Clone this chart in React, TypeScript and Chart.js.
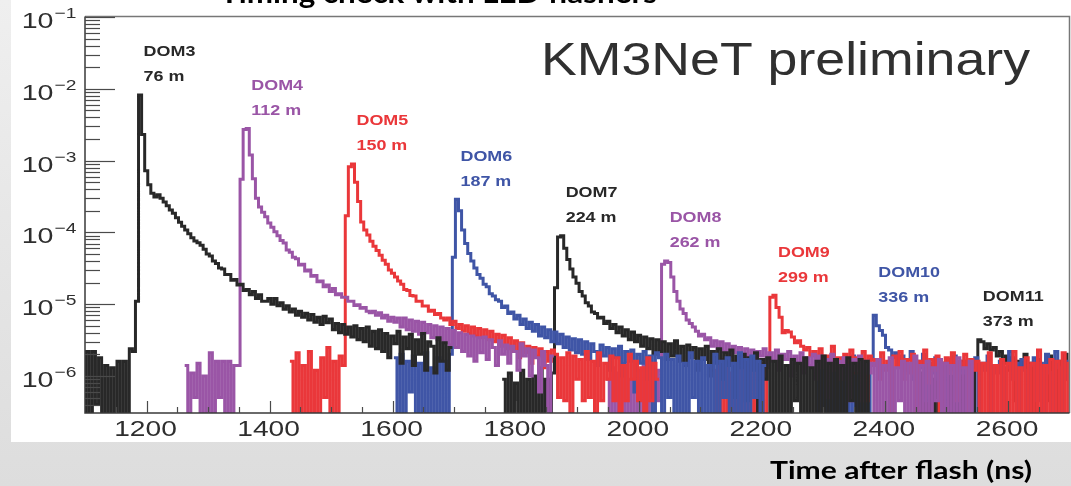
import React, { useEffect, useRef } from "react";
import { Chart, registerables } from "chart.js";

Chart.register(...registerables);

// ---------------- data ----------------
const BIN_NS = 5; // histogram bin width in ns
const UNIT = 1e-6; // series values below are given in units of 1e-6
const X_MIN = 1100;
const X_MAX = 2700;
const Y_MIN = 3.05e-7;
const Y_MAX = 0.1;

const chartTitle = "Timing check with LED flashers";
const xAxisTitle = "Time after flash (ns)";
const watermark = "KM3NeT preliminary";

const domNames = ["DOM3", "DOM4", "DOM5", "DOM6", "DOM7", "DOM8", "DOM9", "DOM10", "DOM11"];
const domDistances = ["76 m", "112 m", "150 m", "187 m", "224 m", "262 m", "299 m", "336 m", "373 m"];
// time (ns) of the first bin of each histogram
const domStarts = [1092, 1262, 1433, 1602, 1778, 1947, 2118, 2286, 2456];

const dom3 = [
  0.9, 0, 2.2, 0, 2.2, 0.4, 1.8, 0, 1.4, 0,
  1.3, 0, 1.6, 0, 1.6, 0, 2.4, 2.2, 11, 8200,
  2300, 720, 460, 350, 310, 335, 300, 265, 235, 205,
  185, 160, 138, 122, 108, 96, 84, 76, 72, 66,
  58, 50, 47, 40, 37, 32, 31, 26, 26, 21.5,
  22, 18.5, 19, 15.5, 16, 13.5, 15, 12, 13.5, 11,
  11, 12, 10, 12, 9.5, 10.5, 8.5, 9.5, 7.8, 8.6,
  7, 8, 6.6, 7.5, 6, 7.2, 5.6, 6.6, 5.2, 6.8,
  5.5, 6.2, 4.4, 5.4, 4, 5.2, 3.8, 4.8, 3.5, 5,
  3.2, 4.6, 3, 4.8, 2.6, 4.2, 2.4, 4.4, 2.2, 3.9,
  1.8, 3.6, 2.8, 4.2, 1.5, 3.5, 2.4, 3.8, 1.4, 3.2,
  2, 3.9, 1.2, 3, 2.6, 1.1, 3.4, 1.6, 2.9, 1.2,
  2.5,
];

const dom4 = [
  1.4, 0, 1.1, 0.5, 1.5, 0, 1.0, 0, 2.1, 0,
  1.6, 0.5, 1.6, 0, 1.6, 0, 1.4, 1.4, 550, 2700,
  2800, 1200, 560, 300, 225, 190, 165, 135, 118, 102,
  90, 77, 71, 57, 53, 45, 43, 35, 36, 29,
  30, 24.5, 25, 20.5, 21, 17.5, 18.5, 15, 16.5, 13.5,
  14, 12.5, 12.5, 11, 11, 9.6, 9.8, 8.8, 9, 8,
  7.6, 8, 7, 7.6, 6.4, 7, 5.8, 6.6, 5.6, 6.4,
  4.8, 6.4, 4.4, 6, 4.2, 5.8, 3.8, 5.6, 4, 5.2,
  3.4, 5, 3.2, 4.8, 2.9, 4.6, 2.7, 4.3, 2.5, 4,
  2.2, 3.8, 1.9, 3.6, 1.6, 3.4, 2.1, 3.5, 1.7, 3.2,
  2.5, 1.4, 3.1, 2, 2.7, 1.5, 2.6, 2.2, 1.2, 2.8,
  1.9, 2.4, 1, 2.3, 1.8, 0.6, 2.2, 1.4, 0, 1.9,
];

const dom5 = [
  1.6, 0, 2.1, 0, 1.4, 0, 2.2, 0, 1.2, 0,
  1.8, 0.5, 2.5, 0, 1.6, 0, 1.9, 1.4, 170, 820,
  900, 500, 270, 140, 108, 92, 75, 64, 56, 48,
  41, 36, 30, 27, 24, 21, 19, 16, 15.5, 13.2,
  13, 11, 11, 9.4, 9.4, 8, 8.2, 7.2, 7.4, 6.4,
  6, 6.4, 5.2, 5.8, 4.6, 5.2, 4.2, 5, 3.9, 4.8,
  3.6, 4.6, 3.4, 4.4, 3.2, 4.2, 3, 3.8, 2.6, 3.7,
  2.4, 3.4, 2.2, 3.1, 1.8, 2.9, 2.1, 2.6, 1.5, 2.5,
  1.9, 2.4, 1.3, 2.2, 1.6, 2.3, 2.0, 0.5, 1.8, 0.45,
  2.1, 0, 1.9, 0.9, 1.7, 0.45, 2.2, 0.5, 1.6, 0,
  2.1, 0.45, 1.5, 0.9, 1.9, 0.45, 1.8, 0, 1.4, 0.45,
  2, 0.9, 1.6, 0.45, 1.3, 0, 1.8, 0.45, 1.5, 0.9,
];

const dom6 = [
  1.8, 0, 2, 0, 1.6, 0.6, 1.9, 0, 1.5, 0,
  2.1, 0, 1.3, 0, 1.8, 0, 1.6, 0, 2, 45,
  290, 200, 108, 70, 51, 40, 32, 26, 23, 19,
  17.5, 14, 13, 11.5, 11, 9, 9.4, 7.4, 7.8, 6.2,
  7, 5.2, 6.2, 4.6, 5.6, 4.2, 5.2, 3.6, 4.8, 3.4,
  4.4, 3, 4.1, 2.8, 3.8, 2.5, 3.5, 2.3, 3.3, 2.1,
  3.2, 2, 3, 1.7, 2.8, 2.2, 1.4, 2.7, 1.9, 2.5,
  1.2, 2.4, 1.8, 2.6, 1, 2.2, 1.6, 2.3, 0.6, 2,
  1.5, 2.2, 0.9, 1.9, 0, 2.1, 1.8, 0, 2, 0.5,
  1.7, 0, 1.9, 0, 1.5, 0, 2.1, 0.5, 1.6, 0,
  1.8, 0, 1.4, 0, 2, 0, 1.6, 0.5, 1.8, 0,
  1.5, 0, 2.1, 0, 1.7, 0, 1.9, 0.5, 1.6, 0,
  1.4,
];

const dom7 = [
  0.9, 0, 1.1, 0, 0.8, 0, 1.2, 0, 0.9, 0,
  1.0, 0, 1.3, 0, 0.9, 0, 1.1, 17, 86, 90,
  60, 42, 31, 24, 19.5, 15, 13, 10.5, 9.4, 7.8,
  7.4, 6.4, 6.6, 5.4, 5.8, 4.6, 5.2, 4, 4.8, 3.6,
  4.4, 3.2, 4.1, 3, 3.7, 2.6, 3.5, 2.4, 3.3, 2,
  3.2, 2.2, 3, 1.7, 2.8, 1.9, 3.1, 1.6, 2.6, 1.4,
  2.7, 1.8, 2.5, 1.2, 2.4, 1.7, 2.6, 1, 2.2, 1.5,
  2.4, 0.9, 2.1, 1.4, 2.3, 0.5, 1.9, 1.3, 2, 0.45,
  1.8, 1.2, 2.1, 0, 1.7, 0.9, 1.8, 0, 1.6, 0,
  1.9, 0, 1.4, 0, 1.7, 0.45, 1.5, 0, 1.8, 0,
  1.3, 0, 1.6, 0, 1.9, 0, 1.5, 0, 1.7, 0,
  1.4, 0, 1.8, 0.45, 1.5, 0, 1.7, 0, 1.6, 0,
];

const dom8 = [
  0.9, 0, 1.3, 0, 1.1, 0, 1.5, 0, 0.9, 0,
  1.2, 0, 1.6, 0, 1.4, 0, 1.2, 0.45, 36, 40,
  38, 24, 15, 11, 8.6, 7.4, 6, 5.4, 4.8, 4.2,
  3.6, 3.8, 3.2, 3.4, 2.6, 3.1, 2.4, 3, 2.2, 2.8,
  1.9, 2.6, 2.1, 2.5, 1.7, 2.4, 1.8, 2.3, 1.4, 2.2,
  1.9, 2.4, 1.3, 2.1, 1.6, 2.3, 1.2, 2, 1.7, 2.2,
  1, 1.9, 1.5, 2.1, 1.1, 1.8, 1.4, 2, 0.9, 1.9,
  1.3, 1.7, 0.5, 2, 1.2, 1.6, 0.9, 1.8, 1.4, 0.45,
  1.7, 1.2, 1.9, 0.45, 1.6, 1.1, 1.5, 0, 1.7, 0,
  1.4, 0, 1.8, 0, 1.3, 0.45, 1.6, 0, 1.5, 0,
  1.9, 0, 1.4, 0, 1.6, 0, 1.3, 0.45, 1.7, 0,
  1.5, 0, 1.4, 0, 1.8, 0, 1.3, 0, 1.6, 0,
];

const dom9 = [
  1.2, 0, 1.5, 0, 1.7, 0, 1.1, 0, 1.6, 0,
  1.9, 0, 1.4, 0, 1.8, 0, 1.5, 0, 1.9, 12.5,
  13.3, 9, 6.6, 4, 4.3, 4.1, 3.5, 2.9, 3.1, 2.6,
  2.3, 2.5, 1.9, 2.2, 1.6, 2.4, 1.5, 1.9, 1.2, 2.6,
  1.4, 1.8, 0.9, 2, 1.5, 2.3, 1.1, 1.8, 1.3, 2.2,
  0.45, 1.9, 1.4, 1.7, 0.9, 2.1, 1.2, 1.6, 0, 1.9,
  1.3, 2.2, 0.9, 1.7, 1.1, 2, 0, 1.6, 1.4, 2.3,
  0.8, 1.7, 1.2, 1.9, 0, 1.5, 1.8, 1.1, 2.1, 0.45,
  1.6, 1.3, 2, 0, 1.7, 1.2, 1.6, 0, 1.5, 0,
  2.1, 0, 1.4, 0, 1.7, 0, 1.5, 0, 2.2, 0,
  1.3, 0, 1.8, 0, 1.5, 0, 2.3, 0, 1.4, 0,
  1.7, 0, 1.6, 0, 2.1, 0, 1.5,
];

const dom10 = [
  1.3, 0, 1.8, 0, 1.2, 0, 1.6, 0, 0.9, 0,
  1.5, 0, 1.9, 0, 1.1, 0, 1.6, 0, 1.7, 7,
  5, 4.3, 3.7, 2.5, 2.3, 1.8, 2.1, 1.4, 1.9, 1.2,
  1.7, 2.2, 0.9, 1.6, 1.3, 2, 0.45, 1.5, 1.1, 1.8,
  0.9, 1.4, 0, 1.7, 1.2, 1.9, 0.45, 1.5, 1.1, 1.6,
  0.9, 1.3, 1.8, 0, 1.5, 1.2, 1.9, 0, 1.4, 1.1,
  1.6, 0, 1.3, 2.2, 0.9, 1.5, 0, 1.7, 1.2, 0,
  1.4, 1.8, 0.45, 1.5, 0, 2, 1.1, 0, 2.2, 1.3,
  0, 1.6, 0.9,
];

const dom11 = [
  1.1, 0, 1.4, 0, 0.9, 0, 1.2, 0, 1.5, 0,
  1.0, 0, 1.3, 0, 1.6, 0, 1.2, 0, 1.4, 3.2,
  3.0, 2.4, 2.8, 2.3, 2.5, 1.9, 2.2, 1.5, 1.9, 1.2,
  1.8, 0.45, 1.6, 1.3, 2, 0.9, 1.5, 0, 1.7, 1.1,
  1.4, 0.45, 1.9, 1.2, 0, 1.6, 1.3, 2, 0.9,
];

const xTickLabels = [1200, 1400, 1600, 1800, 2000, 2200, 2400, 2600];
const yTickExponents = [-1, -2, -3, -4, -5, -6];

// ---------------- style ----------------
const W = 1071;
const H = 486;
const domColors = ["#282828", "#9a55a6", "#ea373a", "#3f55a6", "#282828", "#9a55a6", "#ea373a", "#3f55a6", "#282828"];
const SX = 1.28; // horizontal stretch of the original figure's lettering
const SANS = '"Liberation Sans", Arial, sans-serif';

function drawText(
  ctx: CanvasRenderingContext2D,
  text: string,
  x: number,
  y: number,
  font: string,
  color: string,
  opt: { sx?: number; width?: number; align?: "left" | "center" | "right" } = {}
) {
  ctx.save();
  ctx.font = font;
  ctx.fillStyle = color;
  ctx.textBaseline = "alphabetic";
  ctx.textAlign = "left";
  const w = ctx.measureText(text).width;
  const sx = opt.width ? opt.width / w : opt.sx ?? 1;
  const total = w * sx;
  let left = x;
  if (opt.align === "center") left = x - total / 2;
  else if (opt.align === "right") left = x - total;
  ctx.translate(left, y);
  ctx.scale(sx, 1);
  ctx.fillText(text, 0, 0);
  ctx.restore();
}

export default function App() {
  const ref = useRef<HTMLCanvasElement>(null);

  useEffect(() => {
    document.body.style.margin = "0";
    const canvas = ref.current;
    if (!canvas) return;
    const series = [dom3, dom4, dom5, dom6, dom7, dom8, dom9, dom10, dom11];
    const FLOOR = 1e-7; // empty bins fall below the axis floor, as in ROOT

    // dataset 0 (DOM3) is drawn last, i.e. earlier DOMs lie on top
    const datasets = series.map((vals, i) => {
      const pts = vals.map((v, k) => ({ x: domStarts[i] + k * BIN_NS, y: v > 0 ? v * UNIT : FLOOR }));
      const last = vals[vals.length - 1];
      pts.push({ x: domStarts[i] + vals.length * BIN_NS, y: last > 0 ? last * UNIT : FLOOR });
      return {
        label: domNames[i],
        data: pts,
        borderColor: domColors[i],
        backgroundColor: domColors[i],
        borderWidth: 3,
        pointRadius: 0,
        pointHoverRadius: 0,
        stepped: "before" as const,
        tension: 0,
        fill: false,
        clip: 0,
      };
    });

    const decor = {
      id: "decor",
      beforeDraw(chart: any) {
        const ctx: CanvasRenderingContext2D = chart.ctx;
        ctx.save();
        const g = ctx.createLinearGradient(0, 0, 0, H);
        g.addColorStop(0, "#efefef");
        g.addColorStop(1, "#dddddd");
        ctx.fillStyle = g;
        ctx.fillRect(0, 0, W, H);
        ctx.fillStyle = "#ffffff";
        ctx.fillRect(11, 0, W - 11, 442);
        ctx.restore();
      },
      afterDraw(chart: any) {
        const ctx: CanvasRenderingContext2D = chart.ctx;
        const xs = chart.scales.x;
        const ys = chart.scales.y;
        const { left, right, top, bottom } = chart.chartArea;

        ctx.save();
        // frame
        ctx.lineWidth = 1.5;
        ctx.strokeStyle = "#777777";
        ctx.beginPath();
        ctx.moveTo(left, top - 0.5);
        ctx.lineTo(right, top - 0.5);
        ctx.lineTo(right, bottom);
        ctx.stroke();
        ctx.strokeStyle = "#3a3a3a";
        ctx.beginPath();
        ctx.moveTo(left, top - 0.5);
        ctx.lineTo(left, bottom);
        ctx.lineTo(right, bottom);
        ctx.stroke();

        // y ticks (log)
        ctx.lineWidth = 1.2;
        ctx.strokeStyle = "#4a4a4a";
        for (let e = -7; e <= -1; e++) {
          for (let k = 1; k <= 9; k++) {
            const v = k * Math.pow(10, e);
            if (v < Y_MIN * 0.999 || v > Y_MAX * 1.001) continue;
            const py = Math.round(ys.getPixelForValue(v)) + 0.5;
            const len = k === 1 ? 30 : 15;
            ctx.beginPath();
            ctx.moveTo(left, py);
            ctx.lineTo(left + len, py);
            ctx.stroke();
          }
        }
        // x ticks
        for (let v = X_MIN + 50; v < X_MAX; v += 50) {
          const px = Math.round(xs.getPixelForValue(v)) + 0.5;
          const len = v % 200 === 0 ? 12 : 6;
          ctx.beginPath();
          ctx.moveTo(px, bottom);
          ctx.lineTo(px, bottom - len);
          ctx.stroke();
        }
        ctx.restore();

        // x tick labels
        for (const v of xTickLabels) {
          const px = xs.getPixelForValue(v);
          drawText(ctx, String(v), px - 1, bottom + 23, `22px ${SANS}`, "#2e2e2e", { sx: SX, align: "center" });
        }
        // y tick labels: 10^e
        for (const e of yTickExponents) {
          const py = ys.getPixelForValue(Math.pow(10, e));
          drawText(ctx, "10", 53.5, py + 11, `22px ${SANS}`, "#2e2e2e", { sx: 1.3, align: "right" });
          drawText(ctx, "\u2212" + Math.abs(e), 54.5, py + 1, `15px ${SANS}`, "#2e2e2e", { sx: SX, align: "left" });
        }

        // DOM annotations placed above each peak
        series.forEach((vals, i) => {
          let best = 0;
          for (let k = 1; k < vals.length; k++) if (vals[k] > vals[best]) best = k;
          const px = xs.getPixelForValue(domStarts[i] + (best + 0.5) * BIN_NS);
          const py = ys.getPixelForValue(vals[best] * UNIT);
          drawText(ctx, domNames[i], px + 3.5, py - 38.5, `bold 14px ${SANS}`, domColors[i], { sx: SX });
          drawText(ctx, domDistances[i], px + 3.5, py - 13.5, `bold 14px ${SANS}`, domColors[i], { sx: SX });
        });

        // watermark
        drawText(ctx, watermark, 541, 75, `46px ${SANS}`, "#303030", { width: 489 });
        // title (cut at the top edge)
        drawText(ctx, chartTitle, 220, 3, "bold 28px Lato, sans-serif", "#000000", { width: 437 });
        // x axis title
        drawText(ctx, xAxisTitle, 770, 479, "bold 24px Lato, sans-serif", "#000000", { width: 262 });
      },
    };

    const chart = new Chart(canvas, {
      type: "line",
      data: { datasets: datasets as any },
      options: {
        animation: false,
        responsive: false,
        maintainAspectRatio: false,
        devicePixelRatio: 1,
        events: [],
        layout: { padding: { left: 85, right: 1.5, top: 17, bottom: 73 } },
        plugins: { legend: { display: false }, tooltip: { enabled: false }, title: { display: false } },
        scales: {
          x: { type: "linear", min: X_MIN, max: X_MAX, display: false },
          y: { type: "logarithmic", min: Y_MIN, max: Y_MAX, display: false },
        },
      },
      plugins: [decor],
    });
    return () => chart.destroy();
  }, []);

  return (
    <div style={{ width: W, height: H, position: "relative" }}>
      <canvas ref={ref} width={W} height={H} style={{ display: "block" }} />
    </div>
  );
}
